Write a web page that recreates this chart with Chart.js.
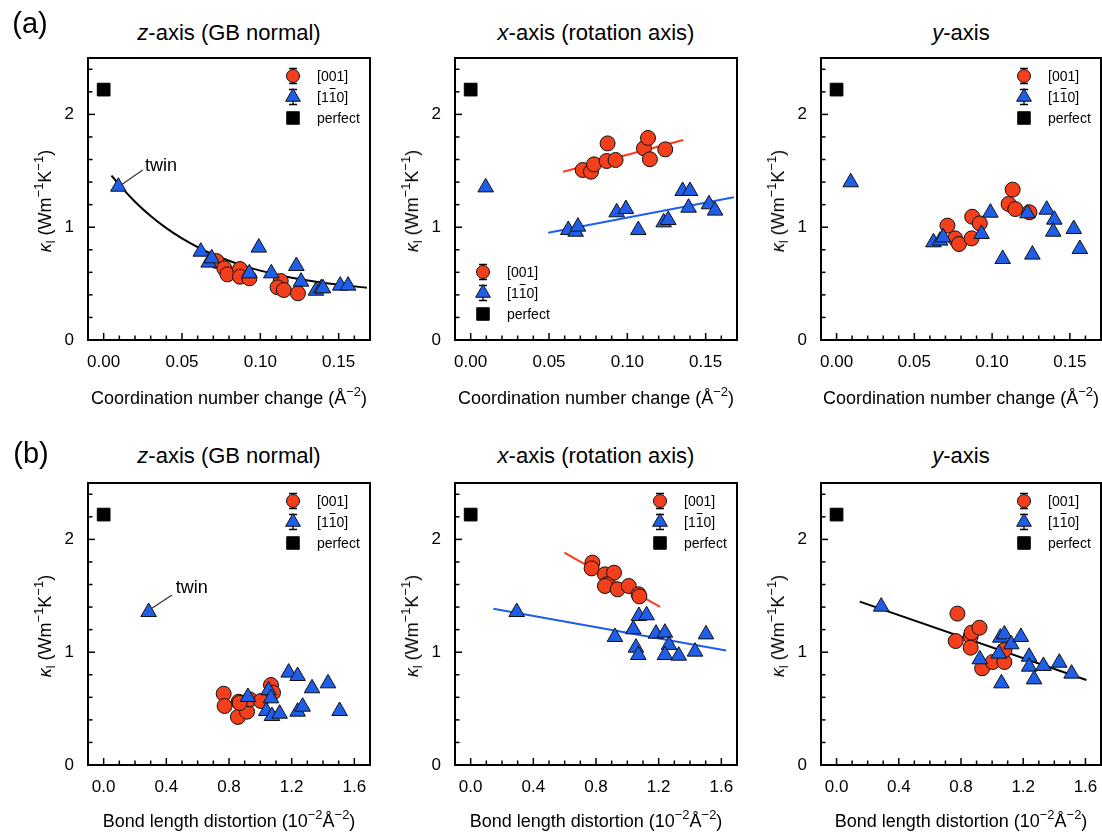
<!DOCTYPE html>
<html>
<head>
<meta charset="utf-8">
<title>Lattice thermal conductivity vs GB descriptors</title>
<script src="https://cdn.jsdelivr.net/npm/chart.js@4.4.1/dist/chart.umd.min.js"></script>
<style>
html,body{margin:0;padding:0;background:#fff;}
body{width:1102px;height:833px;position:relative;overflow:hidden;font-family:"Liberation Sans",Arial,Helvetica,sans-serif;color:#000;}
canvas{position:absolute;}
.lbl{position:absolute;white-space:nowrap;transform:translate(-50%,-50%);line-height:1;}
.ptitle{font-size:22px;}
.rowlbl{font-size:29px;}
.xt{font-size:18px;}
.yt{font-size:18px;transform:translate(-50%,-50%) rotate(-90deg);}
sup{font-size:0.72em;vertical-align:0.6em;line-height:0;}
sub{font-size:0.68em;vertical-align:-0.3em;line-height:0;}
</style>
</head>
<body>
<script>
// ---------------- data ----------------
const cnTickVals = [0,0.01,0.02,0.03,0.04,0.05,0.06,0.07,0.08,0.09,0.10,0.11,0.12,0.13,0.14,0.15,0.16];
const cnTickText = ['0.00','','','','','0.05','','','','','0.10','','','','','0.15',''];
const bdTickVals = [0,0.1,0.2,0.3,0.4,0.5,0.6,0.7,0.8,0.9,1.0,1.1,1.2,1.3,1.4,1.5,1.6];
const bdTickText = ['0.0','','','','0.4','','','','0.8','','','','1.2','','','','1.6'];
const kTickVals = [0,0.2,0.4,0.6,0.8,1.0,1.2,1.4,1.6,1.8,2.0,2.2,2.4];
const kTickText = ['0','','','','','1','','','','','2','',''];

const rowLabels = ['(a)','(b)'];
const axisLetters = ['z','x','y'];
const axisSuffix = ['-axis (GB normal)','-axis (rotation axis)','-axis'];
const seriesNames = ['[001]','[11\u03050]','perfect'];
const annotationText = 'twin';

const perfect = [[0,2.22]];

// (a) coordination number change (Å^-2)
const A_Z_001 = [[0.072,0.700],[0.077,0.635],[0.079,0.582],[0.087,0.629],[0.087,0.561],[0.093,0.547],[0.113,0.523],[0.111,0.467],[0.115,0.443],[0.124,0.414]];
const A_Z_110 = [[0.0094,1.359],[0.062,0.783],[0.067,0.686],[0.069,0.724],[0.093,0.591],[0.099,0.819],[0.107,0.591],[0.123,0.656],[0.126,0.517],[0.1355,0.437],[0.139,0.46],[0.140,0.458],[0.151,0.482],[0.156,0.482]];
const A_Z_FIT = [[0.005,1.458],[0.01,1.375],[0.02,1.226],[0.03,1.099],[0.04,0.992],[0.05,0.901],[0.06,0.824],[0.07,0.758],[0.08,0.703],[0.09,0.655],[0.10,0.615],[0.12,0.552],[0.14,0.507],[0.168,0.464]];

const A_X_001 = [[0.0715,1.507],[0.0768,1.492],[0.0787,1.557],[0.0868,1.587],[0.0874,1.743],[0.0925,1.596],[0.1106,1.699],[0.1132,1.791],[0.1144,1.602],[0.1242,1.690]];
const A_X_110 = [[0.0096,1.353],[0.0623,0.975],[0.067,0.960],[0.0685,1.005],[0.0932,1.132],[0.0991,1.161],[0.107,0.975],[0.1232,1.043],[0.1261,1.064],[0.1353,1.321],[0.14,1.321],[0.1391,1.173],[0.1521,1.203],[0.156,1.147]];
const A_X_FIT001 = [[0.059,1.492],[0.1357,1.773]];
const A_X_FIT110 = [[0.0495,0.951],[0.168,1.265]];

const A_Y_001 = [[0.0713,1.014],[0.0762,0.901],[0.0787,0.851],[0.0868,0.901],[0.0872,1.093],[0.0921,1.034],[0.1106,1.206],[0.1132,1.333],[0.1149,1.161],[0.124,1.132]];
const A_Y_110 = [[0.0091,1.398],[0.0623,0.866],[0.0666,0.881],[0.0685,0.910],[0.0932,0.940],[0.0989,1.129],[0.1068,0.718],[0.1227,1.123],[0.1259,0.757],[0.1351,1.155],[0.14,1.067],[0.1393,0.960],[0.1525,0.984],[0.1564,0.807]];

// (b) bond length distortion (10^-2 Å^-2)
const B_Z_001 = [[0.766,0.632],[0.772,0.523],[0.862,0.561],[0.857,0.426],[0.915,0.473],[0.932,0.582],[0.868,0.55],[1.004,0.567],[1.068,0.709],[1.081,0.641]];
const B_Z_110 = [[0.287,1.356],[0.921,0.603],[1.053,0.662],[1.068,0.591],[1.038,0.479],[1.074,0.434],[1.123,0.455],[1.181,0.819],[1.238,0.789],[1.238,0.473],[1.270,0.517],[1.330,0.680],[1.432,0.724],[1.506,0.479]];

const B_X_001 = [[0.777,1.794],[0.772,1.743],[0.857,1.690],[0.915,1.705],[0.868,1.602],[0.857,1.587],[0.938,1.557],[1.009,1.587],[1.072,1.513],[1.077,1.495]];
const B_X_110 = [[0.294,1.356],[0.921,1.135],[1.038,1.203],[1.074,1.321],[1.123,1.327],[1.055,1.040],[1.070,0.975],[1.183,1.164],[1.240,1.173],[1.266,1.064],[1.240,0.975],[1.328,0.969],[1.432,1.005],[1.502,1.158]];
const B_X_FIT001 = [[0.598,1.882],[1.209,1.401]];
const B_X_FIT110 = [[0.145,1.386],[1.63,1.015]];

const B_Y_001 = [[0.777,1.342],[0.766,1.099],[0.862,1.138],[0.868,1.173],[0.862,1.040],[0.919,1.217],[0.936,0.857],[1.004,0.913],[1.079,0.913],[1.079,1.019]];
const B_Y_110 = [[0.287,1.404],[0.921,0.937],[1.043,0.987],[1.060,0.724],[1.053,1.129],[1.079,1.158],[1.123,1.070],[1.185,1.135],[1.238,0.960],[1.238,0.872],[1.270,0.759],[1.330,0.878],[1.432,0.907],[1.511,0.810]];
const B_Y_FIT = [[0.149,1.448],[1.606,0.754]];

// ---------------- styles / layout ----------------
const RED = '#f33f1c', BLUE = '#1f5ee8', RED_LINE = '#ff3b1a', BLUE_LINE = '#1f5cf2';
const COLS = [88, 455, 821];
const PW = [282, 282, 280];
const ROWS = [58, 483];
const PH = 282;
const TITLE_Y = [33, 456];
const XTITLE_Y = [398, 821];
const ROWLBL = [[30, 23], [31, 453]];
const FONT = '"Liberation Sans", Arial, Helvetica, sans-serif';

const panels = [
  {row:0, col:0, s001:A_Z_001, s110:A_Z_110, fits:[{d:A_Z_FIT, c:'#000', curve:true}], legend:'tr',
   note:{at:[0.0366,1.543], from:[0.0249,1.507], to:[0.0111,1.374]}},
  {row:0, col:1, s001:A_X_001, s110:A_X_110, fits:[{d:A_X_FIT001, c:RED_LINE},{d:A_X_FIT110, c:BLUE_LINE}], legend:'bl'},
  {row:0, col:2, s001:A_Y_001, s110:A_Y_110, fits:[], legend:'tr'},
  {row:1, col:0, s001:B_Z_001, s110:B_Z_110, fits:[], legend:'tr',
   note:{at:[0.563,1.566], from:[0.436,1.507], to:[0.308,1.389]}},
  {row:1, col:1, s001:B_X_001, s110:B_X_110, fits:[{d:B_X_FIT001, c:RED_LINE},{d:B_X_FIT110, c:BLUE_LINE}], legend:'tr'},
  {row:1, col:2, s001:B_Y_001, s110:B_Y_110, fits:[{d:B_Y_FIT, c:'#000'}], legend:'tr'}
];

const toXY = arr => arr.map(p => ({x:p[0], y:p[1]}));

// ---------------- plugins ----------------
const frameTicks = {
  id: 'frameTicks',
  beforeDatasetsDraw(chart) {
    const {ctx, chartArea:a, scales:{x, y}} = chart;
    ctx.save();
    ctx.strokeStyle = '#000';
    ctx.lineWidth = 1.5;
    x.ticks.forEach(t => {
      const px = x.getPixelForValue(t.value);
      if (px <= a.left + 1 || px >= a.right - 1) return;
      const len = t.label ? 7 : 4.5;
      ctx.beginPath(); ctx.moveTo(px, a.bottom); ctx.lineTo(px, a.bottom - len); ctx.stroke();
    });
    y.ticks.forEach(t => {
      const py = y.getPixelForValue(t.value);
      if (py >= a.bottom - 1 || py <= a.top + 1) return;
      const len = t.label ? 7 : 4.5;
      ctx.beginPath(); ctx.moveTo(a.left, py); ctx.lineTo(a.left + len, py); ctx.stroke();
    });
    ctx.lineWidth = 2;
    ctx.strokeRect(a.left, a.top, a.right - a.left, a.bottom - a.top);
    ctx.restore();
  }
};

function drawMarker(ctx, style, x, y, r, fill) {
  ctx.fillStyle = fill; ctx.strokeStyle = '#111'; ctx.lineWidth = 1;
  ctx.beginPath();
  if (style === 'circle') { ctx.arc(x, y, r, 0, Math.PI*2); }
  else if (style === 'triangle') {
    const h = Math.sin(Math.PI/3) * r;
    ctx.moveTo(x, y - r); ctx.lineTo(x + h, y + r/2); ctx.lineTo(x - h, y + r/2); ctx.closePath();
  } else {
    const s = r; ctx.rect(x - s, y - s, 2*s, 2*s);
  }
  ctx.fill(); ctx.stroke();
}

function drawRichLabel(ctx, text, x, y) {
  // draws text, rendering U+0305 (combining overline) as a bar over the previous glyph
  let cx = x;
  for (let i = 0; i < text.length; i++) {
    const ch = text[i];
    if (ch === '\u0305') continue;
    const w = ctx.measureText(ch).width;
    ctx.fillText(ch, cx, y);
    if (text[i+1] === '\u0305') {
      ctx.save(); ctx.strokeStyle = '#000'; ctx.lineWidth = 1;
      ctx.beginPath(); ctx.moveTo(cx + 1, y - 9.5); ctx.lineTo(cx + w - 1, y - 9.5); ctx.stroke();
      ctx.restore();
    }
    cx += w;
  }
}

const boxLegend = {
  id: 'boxLegend',
  afterDatasetsDraw(chart, args, opts) {
    const {ctx, chartArea:a} = chart;
    const items = chart.data.datasets.filter(d => d.legendRank).sort((p, q) => p.legendRank - q.legendRank);
    let x0, y0;
    if (opts.corner === 'bl') { x0 = a.left + 28; y0 = a.bottom - 68; }
    else { x0 = a.right - 77; y0 = a.top + 18; }
    const gap = 21;
    ctx.save();
    ctx.font = '14px ' + FONT;
    ctx.textBaseline = 'middle';
    ctx.textAlign = 'left';
    items.forEach((d, i) => {
      const y = y0 + i * gap;
      if (d.errorBar) {
        ctx.strokeStyle = '#000'; ctx.lineWidth = 1.3;
        ctx.beginPath();
        ctx.moveTo(x0, y - 7.5); ctx.lineTo(x0, y + 7.5);
        ctx.moveTo(x0 - 4, y - 7.5); ctx.lineTo(x0 + 4, y - 7.5);
        ctx.moveTo(x0 - 4, y + 7.5); ctx.lineTo(x0 + 4, y + 7.5);
        ctx.stroke();
      }
      drawMarker(ctx, d.pointStyle, x0, y, d.legendSize, d.backgroundColor);
      ctx.fillStyle = '#000';
      drawRichLabel(ctx, d.label, x0 + 24, y + 1);
    });
    ctx.restore();
  }
};

const noteLabel = {
  id: 'noteLabel',
  afterDatasetsDraw(chart, args, opts) {
    if (!opts || !opts.at) return;
    const {ctx, scales:{x, y}} = chart;
    ctx.save();
    ctx.strokeStyle = '#333'; ctx.lineWidth = 1.2;
    ctx.beginPath();
    ctx.moveTo(x.getPixelForValue(opts.from[0]), y.getPixelForValue(opts.from[1]));
    ctx.lineTo(x.getPixelForValue(opts.to[0]), y.getPixelForValue(opts.to[1]));
    ctx.stroke();
    ctx.fillStyle = '#000';
    ctx.font = '18px ' + FONT;
    ctx.textAlign = 'center'; ctx.textBaseline = 'middle';
    ctx.fillText(opts.text, x.getPixelForValue(opts.at[0]), y.getPixelForValue(opts.at[1]));
    ctx.restore();
  }
};

// ---------------- build ----------------
Chart.defaults.font.family = FONT;
Chart.defaults.font.size = 17;
Chart.defaults.color = '#000';

const L = 60, T = 10, R = 10, B = 45;

function addLabel(html, cls, x, y) {
  const d = document.createElement('div');
  d.className = 'lbl ' + cls;
  d.innerHTML = html;
  d.style.left = x + 'px';
  d.style.top = y + 'px';
  document.body.appendChild(d);
}

panels.forEach(p => {
  const w = PW[p.col], h = PH;
  const cv = document.createElement('canvas');
  cv.width = L + w + R; cv.height = T + h + B;
  cv.style.left = (COLS[p.col] - L) + 'px';
  cv.style.top = (ROWS[p.row] - T) + 'px';
  document.body.appendChild(cv);

  const top = p.row === 0;
  const xVals = top ? cnTickVals : bdTickVals;
  const xText = top ? cnTickText : bdTickText;
  const xMin = top ? -0.01 : -0.1, xMax = top ? 0.17 : 1.7;

  const datasets = [
    {label: seriesNames[2], data: toXY(perfect), pointStyle:'rect', pointRadius:9, backgroundColor:'#000', borderColor:'#000', borderWidth:1, order:0, legendRank:3, legendSize:6.3, clip:false},
    {label: seriesNames[1], data: toXY(p.s110), pointStyle:'triangle', pointRadius:9, backgroundColor:BLUE, borderColor:'#111', borderWidth:1, order:1, legendRank:2, legendSize:8.5, errorBar:true, clip:false},
    {label: seriesNames[0], data: toXY(p.s001), pointStyle:'circle', pointRadius:7.5, backgroundColor:RED, borderColor:'#111', borderWidth:1, order:2, legendRank:1, legendSize:6.5, errorBar:true, clip:false}
  ];
  p.fits.forEach((f, i) => {
    datasets.push({label:'fit' + i, data: toXY(f.d), showLine:true, pointRadius:0, borderColor:f.c, backgroundColor:f.c, borderWidth:2,
      fill:false, cubicInterpolationMode: f.curve ? 'monotone' : 'default', tension: f.curve ? 0.4 : 0, order:5, clip:false});
  });

  new Chart(cv.getContext('2d'), {
    type: 'scatter',
    data: {datasets},
    options: {
      responsive: false,
      animation: false,
      events: [],
      layout: {padding: {left:0, top:T, right:R, bottom:0}},
      scales: {
        x: {
          type:'linear', min:xMin, max:xMax,
          afterBuildTicks: s => { s.ticks = xVals.map(v => ({value:v})); },
          afterFit: s => { s.height = B; s.paddingLeft = 0; s.paddingRight = 0; },
          grid: {display:false, drawTicks:false},
          border: {display:false},
          ticks: {autoSkip:false, maxRotation:0, padding:12, font:{size:17}, callback:(v, i) => xText[i]}
        },
        y: {
          type:'linear', min:0, max:2.5,
          afterBuildTicks: s => { s.ticks = kTickVals.map(v => ({value:v})); },
          afterFit: s => { s.width = L; s.paddingTop = 0; s.paddingBottom = 0; },
          grid: {display:false, drawTicks:false},
          border: {display:false},
          ticks: {autoSkip:false, padding:14, font:{size:17}, callback:(v, i) => kTickText[i]}
        }
      },
      plugins: {
        legend: {display:false},
        tooltip: {enabled:false},
        boxLegend: {corner: p.legend},
        noteLabel: p.note ? {text: annotationText, at:p.note.at, from:p.note.from, to:p.note.to} : {}
      }
    },
    plugins: [frameTicks, boxLegend, noteLabel]
  });

  const cx = COLS[p.col] + w / 2;
  addLabel('<i>' + axisLetters[p.col] + '</i>' + axisSuffix[p.col], 'ptitle', cx, TITLE_Y[p.row]);
  addLabel(top ? 'Coordination number change (Å<sup>\u22122</sup>)' : 'Bond length distortion (10<sup>\u22122</sup>Å<sup>\u22122</sup>)', 'xt', cx, XTITLE_Y[p.row]);
  addLabel('<i>κ</i><sub>l</sub> (Wm<sup>\u22121</sup>K<sup>\u22121</sup>)', 'yt', COLS[p.col] - 43, ROWS[p.row] + h / 2 + 2);
});

rowLabels.forEach((t, r) => addLabel(t, 'rowlbl', ROWLBL[r][0], ROWLBL[r][1]));
</script>
</body>
</html>
